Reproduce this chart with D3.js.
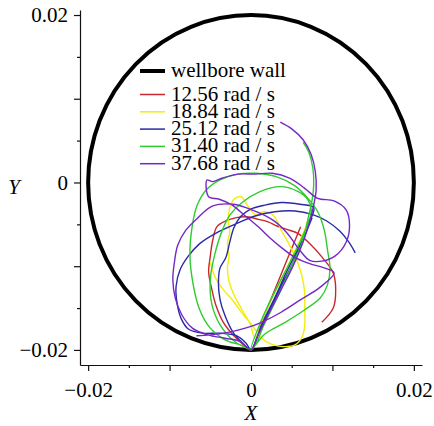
<!DOCTYPE html>
<html>
<head>
<meta charset="utf-8">
<script src="https://cdn.jsdelivr.net/npm/d3@7"></script>
<style>
  body { margin: 0; background: #fff; }
</style>
</head>
<body>
<svg id="chart" width="434" height="426"></svg>
<script>
// wellbore wall radius (m)
const wallRadius = 0.02;

const tickValues = [-0.02, -0.015, -0.01, -0.005, 0, 0.005, 0.01, 0.015, 0.02];
const tickLabels = { "-0.02": "\u22120.02", "0": "0", "0.02": "0.02" };

const seriesNames = ["12.56 rad / s", "18.84 rad / s", "25.12 rad / s", "31.40 rad / s", "37.68 rad / s"];
const seriesColors = ["#c8282c", "#f2ee0a", "#2a2aa8", "#2ecc2e", "#7428c8"];

// whirl trajectories of the drill string centre, [X, Y] in m
const traj1256 = [
  [0.0087, -0.0167], [0.0101, -0.0150], [0.0104, -0.0128], [0.0101, -0.0108], [0.0088, -0.0090],
  [0.0072, -0.0073], [0.0058, -0.0061], [0.0044, -0.0056], [0.0032, -0.0052], [0.0021, -0.0047],
  [0.0009, -0.0044], [-0.0005, -0.0041], [-0.0018, -0.0042], [-0.0031, -0.0046], [-0.0042, -0.0053],
  [-0.0047, -0.0069], [-0.0050, -0.0088], [-0.0052, -0.0107], [-0.0048, -0.0128], [-0.0043, -0.0147],
  [-0.0034, -0.0167], [-0.0021, -0.0183], [-0.0009, -0.0194], [0.0000, -0.0200], [0.0013, -0.0167],
  [0.0028, -0.0131], [0.0044, -0.0093], [0.0061, -0.0053]
];

const traj1884 = [
  [-0.0050, -0.0095], [-0.0044, -0.0113], [-0.0034, -0.0128], [-0.0023, -0.0140], [-0.0011, -0.0156],
  [0.0001, -0.0170], [0.0013, -0.0186], [0.0025, -0.0193], [0.0039, -0.0196], [0.0054, -0.0194],
  [0.0063, -0.0184], [0.0066, -0.0170], [0.0066, -0.0152], [0.0066, -0.0133], [0.0064, -0.0118],
  [0.0060, -0.0103], [0.0055, -0.0090], [0.0049, -0.0078], [0.0043, -0.0067], [0.0037, -0.0057],
  [0.0032, -0.0046], [0.0026, -0.0038], [0.0016, -0.0035], [0.0005, -0.0038], [-0.0004, -0.0028],
  [-0.0012, -0.0017], [-0.0021, -0.0020], [-0.0026, -0.0030], [-0.0028, -0.0045], [-0.0026, -0.0059],
  [-0.0029, -0.0073], [-0.0027, -0.0088], [-0.0029, -0.0102], [-0.0027, -0.0118], [-0.0021, -0.0134],
  [-0.0011, -0.0152], [-0.0001, -0.0169], [0.0005, -0.0186], [0.0015, -0.0162], [0.0026, -0.0138],
  [0.0037, -0.0116], [0.0047, -0.0096], [0.0056, -0.0077], [0.0065, -0.0059], [0.0069, -0.0047]
];

const traj2512 = [
  [0.0128, -0.0084], [0.0120, -0.0071], [0.0109, -0.0058], [0.0093, -0.0046], [0.0075, -0.0038],
  [0.0054, -0.0034], [0.0029, -0.0035], [0.0005, -0.0040], [-0.0020, -0.0050], [-0.0044, -0.0061],
  [-0.0063, -0.0073], [-0.0077, -0.0088], [-0.0087, -0.0104], [-0.0092, -0.0124], [-0.0091, -0.0143],
  [-0.0086, -0.0162], [-0.0077, -0.0175], [-0.0059, -0.0180], [-0.0038, -0.0180], [-0.0018, -0.0183],
  [-0.0006, -0.0192], [0.0000, -0.0200], [0.0011, -0.0176], [0.0023, -0.0152], [0.0038, -0.0122],
  [0.0052, -0.0095], [0.0064, -0.0069], [0.0072, -0.0047], [0.0077, -0.0030], [0.0060, -0.0026],
  [0.0038, -0.0024], [0.0017, -0.0027], [-0.0001, -0.0032], [-0.0013, -0.0041], [-0.0021, -0.0054],
  [-0.0026, -0.0071], [-0.0031, -0.0090], [-0.0038, -0.0102], [-0.0040, -0.0120], [-0.0038, -0.0140],
  [-0.0032, -0.0159], [-0.0022, -0.0179], [-0.0009, -0.0193], [0.0000, -0.0200], [0.0013, -0.0170],
  [0.0029, -0.0138], [0.0045, -0.0104], [0.0060, -0.0075], [0.0070, -0.0054], [0.0075, -0.0042]
];

const traj3140 = [
  [0.0064, 0.0048], [0.0071, 0.0036], [0.0076, 0.0017], [0.0077, -0.0003], [0.0075, -0.0021],
  [0.0071, -0.0039], [0.0063, -0.0071], [0.0048, -0.0104], [0.0032, -0.0138], [0.0016, -0.0170],
  [0.0001, -0.0199], [-0.0013, -0.0194], [-0.0032, -0.0188], [-0.0050, -0.0174], [-0.0063, -0.0152],
  [-0.0071, -0.0122], [-0.0075, -0.0087], [-0.0072, -0.0051], [-0.0066, -0.0027], [-0.0055, -0.0009],
  [-0.0038, 0.0003], [-0.0016, 0.0010], [0.0006, 0.0011], [0.0031, 0.0007], [0.0054, -0.0004],
  [0.0070, -0.0019], [0.0082, -0.0035], [0.0090, -0.0057], [0.0094, -0.0081], [0.0097, -0.0102],
  [0.0094, -0.0122], [0.0085, -0.0138], [0.0066, -0.0152], [0.0042, -0.0167], [0.0017, -0.0181],
  [0.0000, -0.0200], [0.0013, -0.0164], [0.0029, -0.0131], [0.0048, -0.0095], [0.0064, -0.0063],
  [0.0074, -0.0035], [0.0070, -0.0021], [0.0058, -0.0011], [0.0036, -0.0005], [0.0011, -0.0011],
  [-0.0011, -0.0024], [-0.0026, -0.0039], [-0.0036, -0.0059], [-0.0045, -0.0088], [-0.0050, -0.0116],
  [-0.0048, -0.0146], [-0.0038, -0.0170], [-0.0020, -0.0190], [0.0000, -0.0200]
];

const traj3768 = [
  [0.0036, 0.0072], [0.0050, 0.0064], [0.0064, 0.0051], [0.0074, 0.0033], [0.0079, 0.0013],
  [0.0080, -0.0009], [0.0077, -0.0027], [0.0072, -0.0047], [0.0064, -0.0071], [0.0052, -0.0099],
  [0.0037, -0.0128], [0.0021, -0.0158], [0.0007, -0.0186], [0.0000, -0.0200], [-0.0013, -0.0190],
  [-0.0032, -0.0186], [-0.0053, -0.0182], [-0.0072, -0.0174], [-0.0085, -0.0158], [-0.0093, -0.0138],
  [-0.0096, -0.0116], [-0.0094, -0.0095], [-0.0090, -0.0075], [-0.0080, -0.0057], [-0.0065, -0.0042],
  [-0.0047, -0.0028], [-0.0022, -0.0026], [0.0002, -0.0033], [0.0027, -0.0045], [0.0044, -0.0060],
  [0.0060, -0.0081], [0.0072, -0.0093], [0.0087, -0.0094], [0.0103, -0.0088], [0.0117, -0.0071],
  [0.0121, -0.0051], [0.0117, -0.0033], [0.0102, -0.0022], [0.0082, -0.0019], [0.0066, -0.0007],
  [0.0048, 0.0005], [0.0026, 0.0011], [0.0005, 0.0010], [-0.0016, 0.0010], [-0.0036, 0.0005],
  [-0.0047, 0.0001], [-0.0054, 0.0003], [-0.0052, -0.0017], [-0.0039, -0.0020], [-0.0023, -0.0027],
  [-0.0007, -0.0040], [0.0009, -0.0053], [0.0023, -0.0066], [0.0039, -0.0079], [0.0055, -0.0090],
  [0.0072, -0.0097], [0.0090, -0.0102], [0.0102, -0.0108], [0.0085, -0.0125], [0.0061, -0.0140],
  [0.0037, -0.0155], [0.0013, -0.0167], [-0.0007, -0.0174], [-0.0028, -0.0179], [-0.0050, -0.0182],
  [-0.0067, -0.0183]
];

const trajectories = [traj1256, traj1884, traj2512, traj3140, traj3768];

const serif = "'Liberation Serif', 'DejaVu Serif', 'Times New Roman', Times, serif";

const svg = d3.select("#chart");

const x = d3.scaleLinear().domain([-0.021, 0.021]).range([80, 422]);
const y = d3.scaleLinear().domain([-0.0218, 0.0206]).range([365, 10]);

const isMajor = v => Math.abs(Math.round(v * 100) - v * 100) < 1e-9;
const fmt = v => tickLabels[String(+v.toFixed(3))] || "";

// axes
const xAxis = svg.append("g")
  .attr("transform", `translate(0,${y.range()[0]})`)
  .call(d3.axisBottom(x).tickValues(tickValues).tickFormat(fmt).tickSize(6).tickSizeOuter(0).tickPadding(11));

const yAxis = svg.append("g")
  .attr("transform", `translate(${x.range()[0]},0)`)
  .call(d3.axisLeft(y).tickValues(tickValues).tickFormat(fmt).tickSize(6).tickSizeOuter(0).tickPadding(6));

[xAxis, yAxis].forEach(g => {
  g.attr("font-family", serif).attr("font-size", 21);
  g.selectAll("text").attr("font-family", serif).attr("font-size", 21).attr("fill", "#000");
  g.select(".domain").attr("stroke", "#111").attr("stroke-width", 1.2);
  g.selectAll(".tick line").attr("stroke", "#111").attr("stroke-width", 1.2);
});
xAxis.selectAll(".tick line").filter(d => !isMajor(d)).attr("y2", 3);
yAxis.selectAll(".tick line").filter(d => !isMajor(d)).attr("x2", -3);

// axis titles
svg.append("text")
  .attr("x", x(0))
  .attr("y", 420)
  .attr("text-anchor", "middle")
  .attr("font-family", serif)
  .attr("font-size", 21)
  .attr("font-style", "italic")
  .text("X");

svg.append("text")
  .attr("x", 14)
  .attr("y", y(0) + 12)
  .attr("text-anchor", "middle")
  .attr("font-family", serif)
  .attr("font-size", 21)
  .attr("font-style", "italic")
  .text("Y");

// wellbore wall
svg.append("ellipse")
  .attr("cx", x(0))
  .attr("cy", y(0))
  .attr("rx", x(wallRadius) - x(0))
  .attr("ry", y(0) - y(wallRadius))
  .attr("fill", "none")
  .attr("stroke", "#000")
  .attr("stroke-width", 4);

// trajectories
const line = d3.line()
  .x(d => x(d[0]))
  .y(d => y(d[1]))
  .curve(d3.curveCatmullRom.alpha(0.5));

svg.selectAll(".traj")
  .data(trajectories)
  .enter()
  .append("path")
  .attr("class", "traj")
  .attr("d", line)
  .attr("fill", "none")
  .attr("stroke", (d, i) => seriesColors[i])
  .attr("stroke-width", 1.4)
  .attr("stroke-linejoin", "round");

// legend
const legendX = 140;
const legend = svg.append("g")
  .attr("font-family", serif)
  .attr("font-size", 21);

legend.append("line")
  .attr("x1", legendX).attr("x2", legendX + 25)
  .attr("y1", 71).attr("y2", 71)
  .attr("stroke", "#000").attr("stroke-width", 4);

legend.append("text")
  .attr("x", legendX + 31)
  .attr("y", 77)
  .text("wellbore wall");

const rows = legend.selectAll(".row")
  .data(seriesNames)
  .enter()
  .append("g")
  .attr("class", "row")
  .attr("transform", (d, i) => `translate(${legendX},${94.5 + i * 17.3})`);

rows.append("line")
  .attr("x1", 0).attr("x2", 25)
  .attr("stroke", (d, i) => seriesColors[i])
  .attr("stroke-width", 1.5);

rows.append("text")
  .attr("x", 31)
  .attr("y", 6)
  .text(d => d);
</script>
</body>
</html>
